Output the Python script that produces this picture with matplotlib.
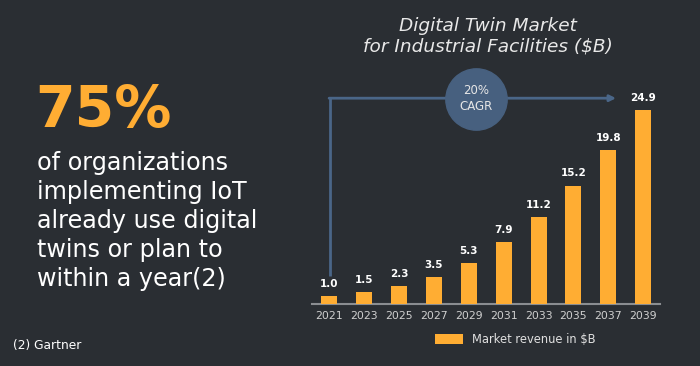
import matplotlib
matplotlib.use("Agg")
import matplotlib.pyplot as plt

years = ["2021", "2023", "2025", "2027", "2029", "2031", "2033", "2035", "2037", "2039"]
revenue = [1.0, 1.5, 2.3, 3.5, 5.3, 7.9, 11.2, 15.2, 19.8, 24.9]
labels = ["1.0", "1.5", "2.3", "3.5", "5.3", "7.9", "11.2", "15.2", "19.8", "24.9"]

BG = "#2a2e33"
ORANGE = "#ffad33"
BLUE = "#4a6688"
CIRCLE = "#47607f"

plt.rcParams["font.family"] = ["DejaVu Sans"]

fig = plt.figure(figsize=(7, 3.66), dpi=100)
fig.patch.set_facecolor(BG)

# chart axes placed in pixel space of the 700x366 canvas
ax = fig.add_axes([312 / 700, (366 - 304) / 366, 348 / 700, 244 / 366])
ax.set_facecolor(BG)
x = list(range(len(years)))
ax.bar(x, revenue, width=0.46, color=ORANGE, zorder=3)
ax.set_xlim(-0.49, 9.48)
ax.set_ylim(0, 31.3)
for xi, v, lab in zip(x, revenue, labels):
    ax.text(xi, v + 0.9, lab, ha="center", va="bottom", color="white",
            fontsize=7.5, fontweight="bold")

ax.set_xticks(x)
ax.set_xticklabels(years, color="#d0d0d0", fontsize=7.8)
ax.tick_params(axis="x", length=0, pad=5)
ax.set_yticks([])
for side in ["left", "right", "top"]:
    ax.spines[side].set_visible(False)
ax.spines["bottom"].set_color("#8a8d91")
ax.spines["bottom"].set_linewidth(1.5)

# CAGR arrow
ax.plot([0.03, 0.03], [3.6, 26.4], color=BLUE, lw=2, zorder=2, solid_capstyle="butt")
ax.annotate("", xy=(8.22, 26.4), xytext=(0.0, 26.4),
            arrowprops=dict(arrowstyle="-|>", color=BLUE, lw=2, mutation_scale=9,
                            shrinkA=0, shrinkB=0), zorder=2)
ax.scatter([4.2], [26.3], s=1950, color=CIRCLE, zorder=4, clip_on=False)
ax.text(4.2, 26.3, "20%\nCAGR", ha="center", va="center", color="#e6e6e6",
        fontsize=8.5, linespacing=1.3, zorder=5)

# legend
ax.bar([0], [0], color=ORANGE, label="Market revenue in $B")
leg = ax.legend(loc="upper left", bbox_to_anchor=(0.325, -0.075), frameon=False,
                fontsize=8.3, labelcolor="#e0e0e0", handlelength=2.4, handleheight=1.0,
                handletextpad=0.8)

fig.text(488 / 700, 1 - 26 / 366, "Digital Twin Market", ha="center", va="center",
         color="#e8e8e8", fontsize=13.3, style="italic")
fig.text(488 / 700, 1 - 47 / 366, "for Industrial Facilities ($B)", ha="center", va="center",
         color="#e8e8e8", fontsize=13.3, style="italic")

# left side text
fig.text(35 / 700, 1 - 111 / 366, "75%", ha="left", va="center", color=ORANGE,
         fontsize=41, fontweight="heavy")
lines = ["of organizations", "implementing IoT", "already use digital",
         "twins or plan to", "within a year(2)"]
for i, line in enumerate(lines):
    fig.text(37 / 700, 1 - (163 + 29 * i) / 366, line, ha="left", va="center",
             color="white", fontsize=17.2)
fig.text(13 / 700, 1 - 345 / 366, "(2) Gartner", ha="left", va="center",
         color="white", fontsize=8.8)

fig.savefig("out.png", dpi=100, facecolor=BG)
